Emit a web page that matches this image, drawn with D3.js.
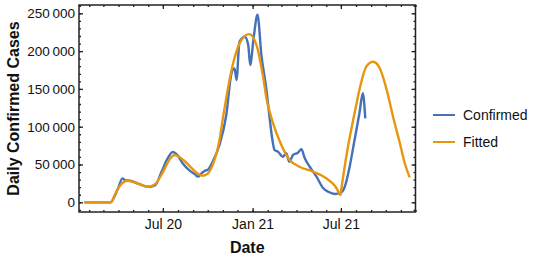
<!DOCTYPE html>
<html>
<head>
<meta charset="utf-8">
<script src="https://cdn.jsdelivr.net/npm/d3@7"></script>
<style>
  body { margin: 0; background: #fff; }
  svg { display: block; font-family: "Liberation Sans", Arial, sans-serif; }
</style>
</head>
<body>
<svg width="536" height="257"></svg>
<script>
// confirmed (7-day) daily cases
const confirmedDates = ["2020-01-22","2020-03-16","2020-03-24","2020-04-01","2020-04-09","2020-04-15","2020-04-25","2020-05-10",
  "2020-05-31","2020-06-15","2020-06-28","2020-07-10","2020-07-21","2020-07-30","2020-08-10","2020-08-25","2020-09-05",
  "2020-09-11","2020-09-18","2020-09-25","2020-10-01","2020-10-11","2020-10-25","2020-11-08","2020-11-18","2020-11-22",
  "2020-11-25","2020-11-29","2020-12-05","2020-12-16","2020-12-23","2020-12-27","2021-01-03","2021-01-11","2021-01-19",
  "2021-01-29","2021-02-05","2021-02-10","2021-02-15","2021-02-22","2021-03-04","2021-03-11","2021-03-17","2021-03-25",
  "2021-04-04","2021-04-11","2021-04-18","2021-04-28","2021-05-12","2021-05-26","2021-06-05","2021-06-19","2021-06-29",
  "2021-07-09","2021-07-19","2021-07-29","2021-08-08","2021-08-15","2021-08-20"];
const confirmedValues = [0,0,8000,20000,31700,29000,28500,25000,
  20600,22500,40000,57000,66500,63000,52000,42000,37000,
  33900,38000,41800,43000,53700,75800,115500,168400,176000,
  177000,161800,212400,219000,208000,181600,217000,248000,194800,
  150800,111000,85000,69200,67000,60300,64800,53700,62600,
  65600,70100,58200,47100,33900,18500,14000,11000,12000,
  20600,47100,82400,117700,144200,111000];

// fitted curve
const fittedDates = ["2020-01-22","2020-03-16","2020-03-26","2020-04-05","2020-04-20","2020-05-10","2020-05-31","2020-06-15",
  "2020-07-01","2020-07-15","2020-07-25","2020-08-10","2020-08-25","2020-09-10","2020-09-21","2020-10-01","2020-10-11",
  "2020-10-25","2020-11-01","2020-11-22","2020-12-09","2020-12-25","2021-01-09","2021-01-23","2021-01-30","2021-02-05",
  "2021-02-12","2021-02-26","2021-03-18","2021-04-07","2021-05-05","2021-06-01","2021-06-19","2021-06-30",
  "2021-07-12","2021-07-29","2021-08-08","2021-08-22","2021-09-05","2021-09-19","2021-10-03","2021-10-16","2021-10-30",
  "2021-11-09","2021-11-19"];
const fittedValues = [0,0,12000,23000,28600,25000,20600,24000,
  40000,57000,62600,57000,48000,38000,35200,38000,49300,
  82000,111000,183900,214700,222500,208000,164000,135300,119800,
  104500,80200,56000,47100,40500,31700,21600,9000,
  60300,117700,148600,179400,186000,177000,148600,113200,78000,
  51600,33000];
const fitCusp = "2021-06-30";

const yMajor = [0, 50000, 100000, 150000, 200000, 250000];
const xMajorDates = ["2020-07-01", "2021-01-01", "2021-07-01"];
const xMajorLabels = ["Jul 20", "Jan 21", "Jul 21"];
const seriesNames = ["Confirmed", "Fitted"];
const seriesColors = ["#4471b8", "#e8960e"];

const parse = d3.timeParse("%Y-%m-%d");
const confirmed = confirmedDates.map((d, i) => ({date: parse(d), value: confirmedValues[i]}));
const fitted = fittedDates.map((d, i) => ({date: parse(d), value: fittedValues[i]}));

const plotLeft = 79, plotRight = 415.5, plotTop = 5, plotBottom = 212;

const x = d3.scaleTime()
    .domain([parse("2020-01-11"), parse("2021-12-01")])
    .range([plotLeft, plotRight]);
const y = d3.scaleLinear()
    .domain([0, 250000])
    .range([202.3, 13.3]);

const svg = d3.select("svg");

const fmt = v => d3.format(",")(v).replace(/,/g, "\u2009");

// frame ticks (inward)
const monthTicks = d3.timeMonth.range(parse("2020-02-01"), parse("2021-12-02"));
const yMinor = d3.range(-10000, 260001, 10000);

function frameAxis(axis, tx, ty) {
    const g = svg.append("g").attr("transform", `translate(${tx},${ty})`).call(axis);
    g.select(".domain").remove();
    g.selectAll("line").attr("stroke", "#222").attr("stroke-width", 1.3);
    return g;
}

// minor
frameAxis(d3.axisBottom(x).tickValues(monthTicks).tickSize(-2).tickFormat(""), 0, plotBottom);
frameAxis(d3.axisTop(x).tickValues(monthTicks).tickSize(-2).tickFormat(""), 0, plotTop);
frameAxis(d3.axisLeft(y).tickValues(yMinor).tickSize(-2).tickFormat(""), plotLeft, 0);
frameAxis(d3.axisRight(y).tickValues(yMinor).tickSize(-2).tickFormat(""), plotRight, 0);
// major
frameAxis(d3.axisTop(x).tickValues(xMajorDates.map(parse)).tickSize(-4).tickFormat(""), 0, plotTop);
frameAxis(d3.axisRight(y).tickValues(yMajor).tickSize(-4).tickFormat(""), plotRight, 0);

const xAx = frameAxis(d3.axisBottom(x).tickValues(xMajorDates.map(parse)).tickSize(-4)
    .tickFormat((d, i) => xMajorLabels[i]), 0, plotBottom);
xAx.selectAll("text")
    .attr("y", 16.5).attr("dy", 0)
    .attr("font-size", "14px").attr("fill", "#111");

const yAx = frameAxis(d3.axisLeft(y).tickValues(yMajor).tickSize(-4).tickFormat(fmt), plotLeft, 0);
yAx.selectAll("text")
    .attr("x", -4)
    .attr("font-size", "13.5px").attr("fill", "#111");

// lines
const line = d3.line()
    .x(d => x(d.date))
    .y(d => y(d.value))
    .curve(d3.curveMonotoneX);

svg.append("path")
    .datum(confirmed)
    .attr("d", line)
    .attr("fill", "none")
    .attr("stroke", seriesColors[0])
    .attr("stroke-width", 2.4)
    .attr("stroke-linejoin", "round");

// fitted curve has a kink at its minimum, so draw it in two pieces
const cusp = parse(fitCusp);
[fitted.filter(d => d.date <= cusp), fitted.filter(d => d.date >= cusp)].forEach(part => {
    svg.append("path")
        .datum(part)
        .attr("d", line)
        .attr("fill", "none")
        .attr("stroke", seriesColors[1])
        .attr("stroke-width", 2.4)
        .attr("stroke-linejoin", "round");
});

// frame
svg.append("rect")
    .attr("x", plotLeft).attr("y", plotTop)
    .attr("width", plotRight - plotLeft).attr("height", plotBottom - plotTop)
    .attr("fill", "none")
    .attr("stroke", "#222")
    .attr("stroke-width", 1.5);

// axis titles
svg.append("text")
    .attr("x", (plotLeft + plotRight) / 2)
    .attr("y", 253)
    .attr("text-anchor", "middle")
    .attr("font-size", "16px")
    .attr("font-weight", "bold")
    .attr("fill", "#111")
    .text("Date");

svg.append("text")
    .attr("transform", `translate(19, ${(plotTop + plotBottom) / 2}) rotate(-90)`)
    .attr("text-anchor", "middle")
    .attr("font-size", "16px")
    .attr("font-weight", "bold")
    .attr("fill", "#111")
    .text("Daily Confirmed Cases");

// legend
const legend = svg.selectAll(".legend")
    .data(seriesNames)
    .enter().append("g")
    .attr("class", "legend")
    .attr("transform", (d, i) => `translate(433, ${115 + i * 27})`);

legend.append("line")
    .attr("x1", 0).attr("x2", 22)
    .attr("stroke", (d, i) => seriesColors[i])
    .attr("stroke-width", 2);

legend.append("text")
    .attr("x", 30)
    .attr("dy", "0.35em")
    .attr("font-size", "14px")
    .attr("fill", "#111")
    .text(d => d);
</script>
</body>
</html>
